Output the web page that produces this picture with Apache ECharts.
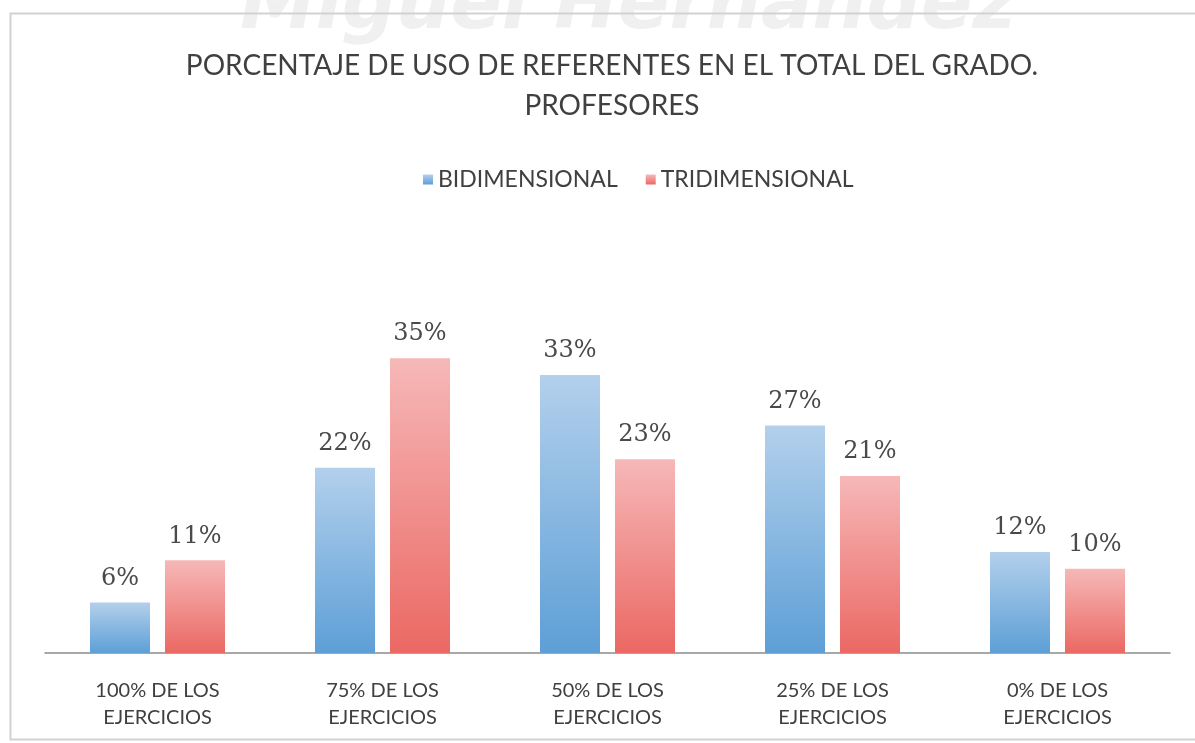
<!DOCTYPE html>
<html>
<head>
<meta charset="utf-8">
<script src="https://cdn.jsdelivr.net/npm/echarts@6/dist/echarts.min.js"></script>
<style>
html,body{margin:0;padding:0;background:#fff;}
#c{width:1195px;height:743px;}
</style>
</head>
<body>
<div id="c"></div>
<script>
const titleLines = ['PORCENTAJE DE USO DE REFERENTES EN EL TOTAL DEL GRADO.', 'PROFESORES'];
const categories = ['100% DE LOS\nEJERCICIOS', '75% DE LOS\nEJERCICIOS', '50% DE LOS\nEJERCICIOS', '25% DE LOS\nEJERCICIOS', '0% DE LOS\nEJERCICIOS'];
const seriesNames = ['BIDIMENSIONAL', 'TRIDIMENSIONAL'];
const bidimensional = [6, 22, 33, 27, 12];
const tridimensional = [11, 35, 23, 21, 10];

const chart = echarts.init(document.getElementById('c'), null, {renderer: 'canvas'});
const FONT = 'Lato';

function grad(top, bottom) {
  return new echarts.graphic.LinearGradient(0, 0, 0, 1, [
    {offset: 0, color: top},
    {offset: 1, color: bottom}
  ]);
}

const labelCfg = {
  show: true,
  position: 'top',
  distance: 12,
  formatter: '{c}%',
  fontFamily: 'DejaVu Serif',
  fontSize: 24,
  color: '#4a4a4a'
};

chart.setOption({
  backgroundColor: '#ffffff',
  animation: false,
  graphic: [
    {
      type: 'text',
      left: 240,
      top: -30,
      z: -10,
      style: {
        text: 'Miguel Hernández',
        font: 'italic bold 76px "DejaVu Sans"',
        fill: '#f0f0f0'
      }
    },
    {
      type: 'rect',
      shape: {x: 10.5, y: 13.5, width: 1200, height: 726},
      style: {fill: 'none', stroke: '#d2d2d2', lineWidth: 2},
      z: -5
    }
  ],
  title: {
    text: titleLines.join('\n'),
    left: 607,
    textAlign: 'center',
    top: 41,
    textStyle: {
      fontFamily: FONT,
      fontWeight: 'normal',
      fontSize: 28,
      lineHeight: 40,
      color: '#404040'
    }
  },
  legend: {
    data: seriesNames,
    top: 163,
    left: 418,
    itemWidth: 10,
    itemHeight: 10,
    itemGap: 28,
    icon: 'rect',
    textStyle: {fontFamily: FONT, fontSize: 23, color: '#404040'}
  },
  grid: {left: 45, right: 25, top: 316, bottom: 90},
  xAxis: {
    type: 'category',
    data: categories,
    axisLine: {lineStyle: {color: '#8c8c8c', width: 1.5}},
    axisTick: {show: false},
    axisLabel: {
      interval: 0,
      margin: 24,
      fontFamily: FONT,
      fontSize: 20,
      lineHeight: 27,
      color: '#404040'
    }
  },
  yAxis: {
    type: 'value',
    min: 0,
    max: 40,
    show: false,
    splitLine: {show: false}
  },
  series: [
    {
      name: seriesNames[0],
      type: 'bar',
      data: bidimensional,
      barWidth: 60,
      barGap: '25%',
      itemStyle: {color: grad('#b3d0ec', '#5d9fd6')},
      label: labelCfg
    },
    {
      name: seriesNames[1],
      type: 'bar',
      data: tridimensional,
      barWidth: 60,
      itemStyle: {color: grad('#f6b8b8', '#eb6863')},
      label: labelCfg
    }
  ]
});
</script>
</body>
</html>
